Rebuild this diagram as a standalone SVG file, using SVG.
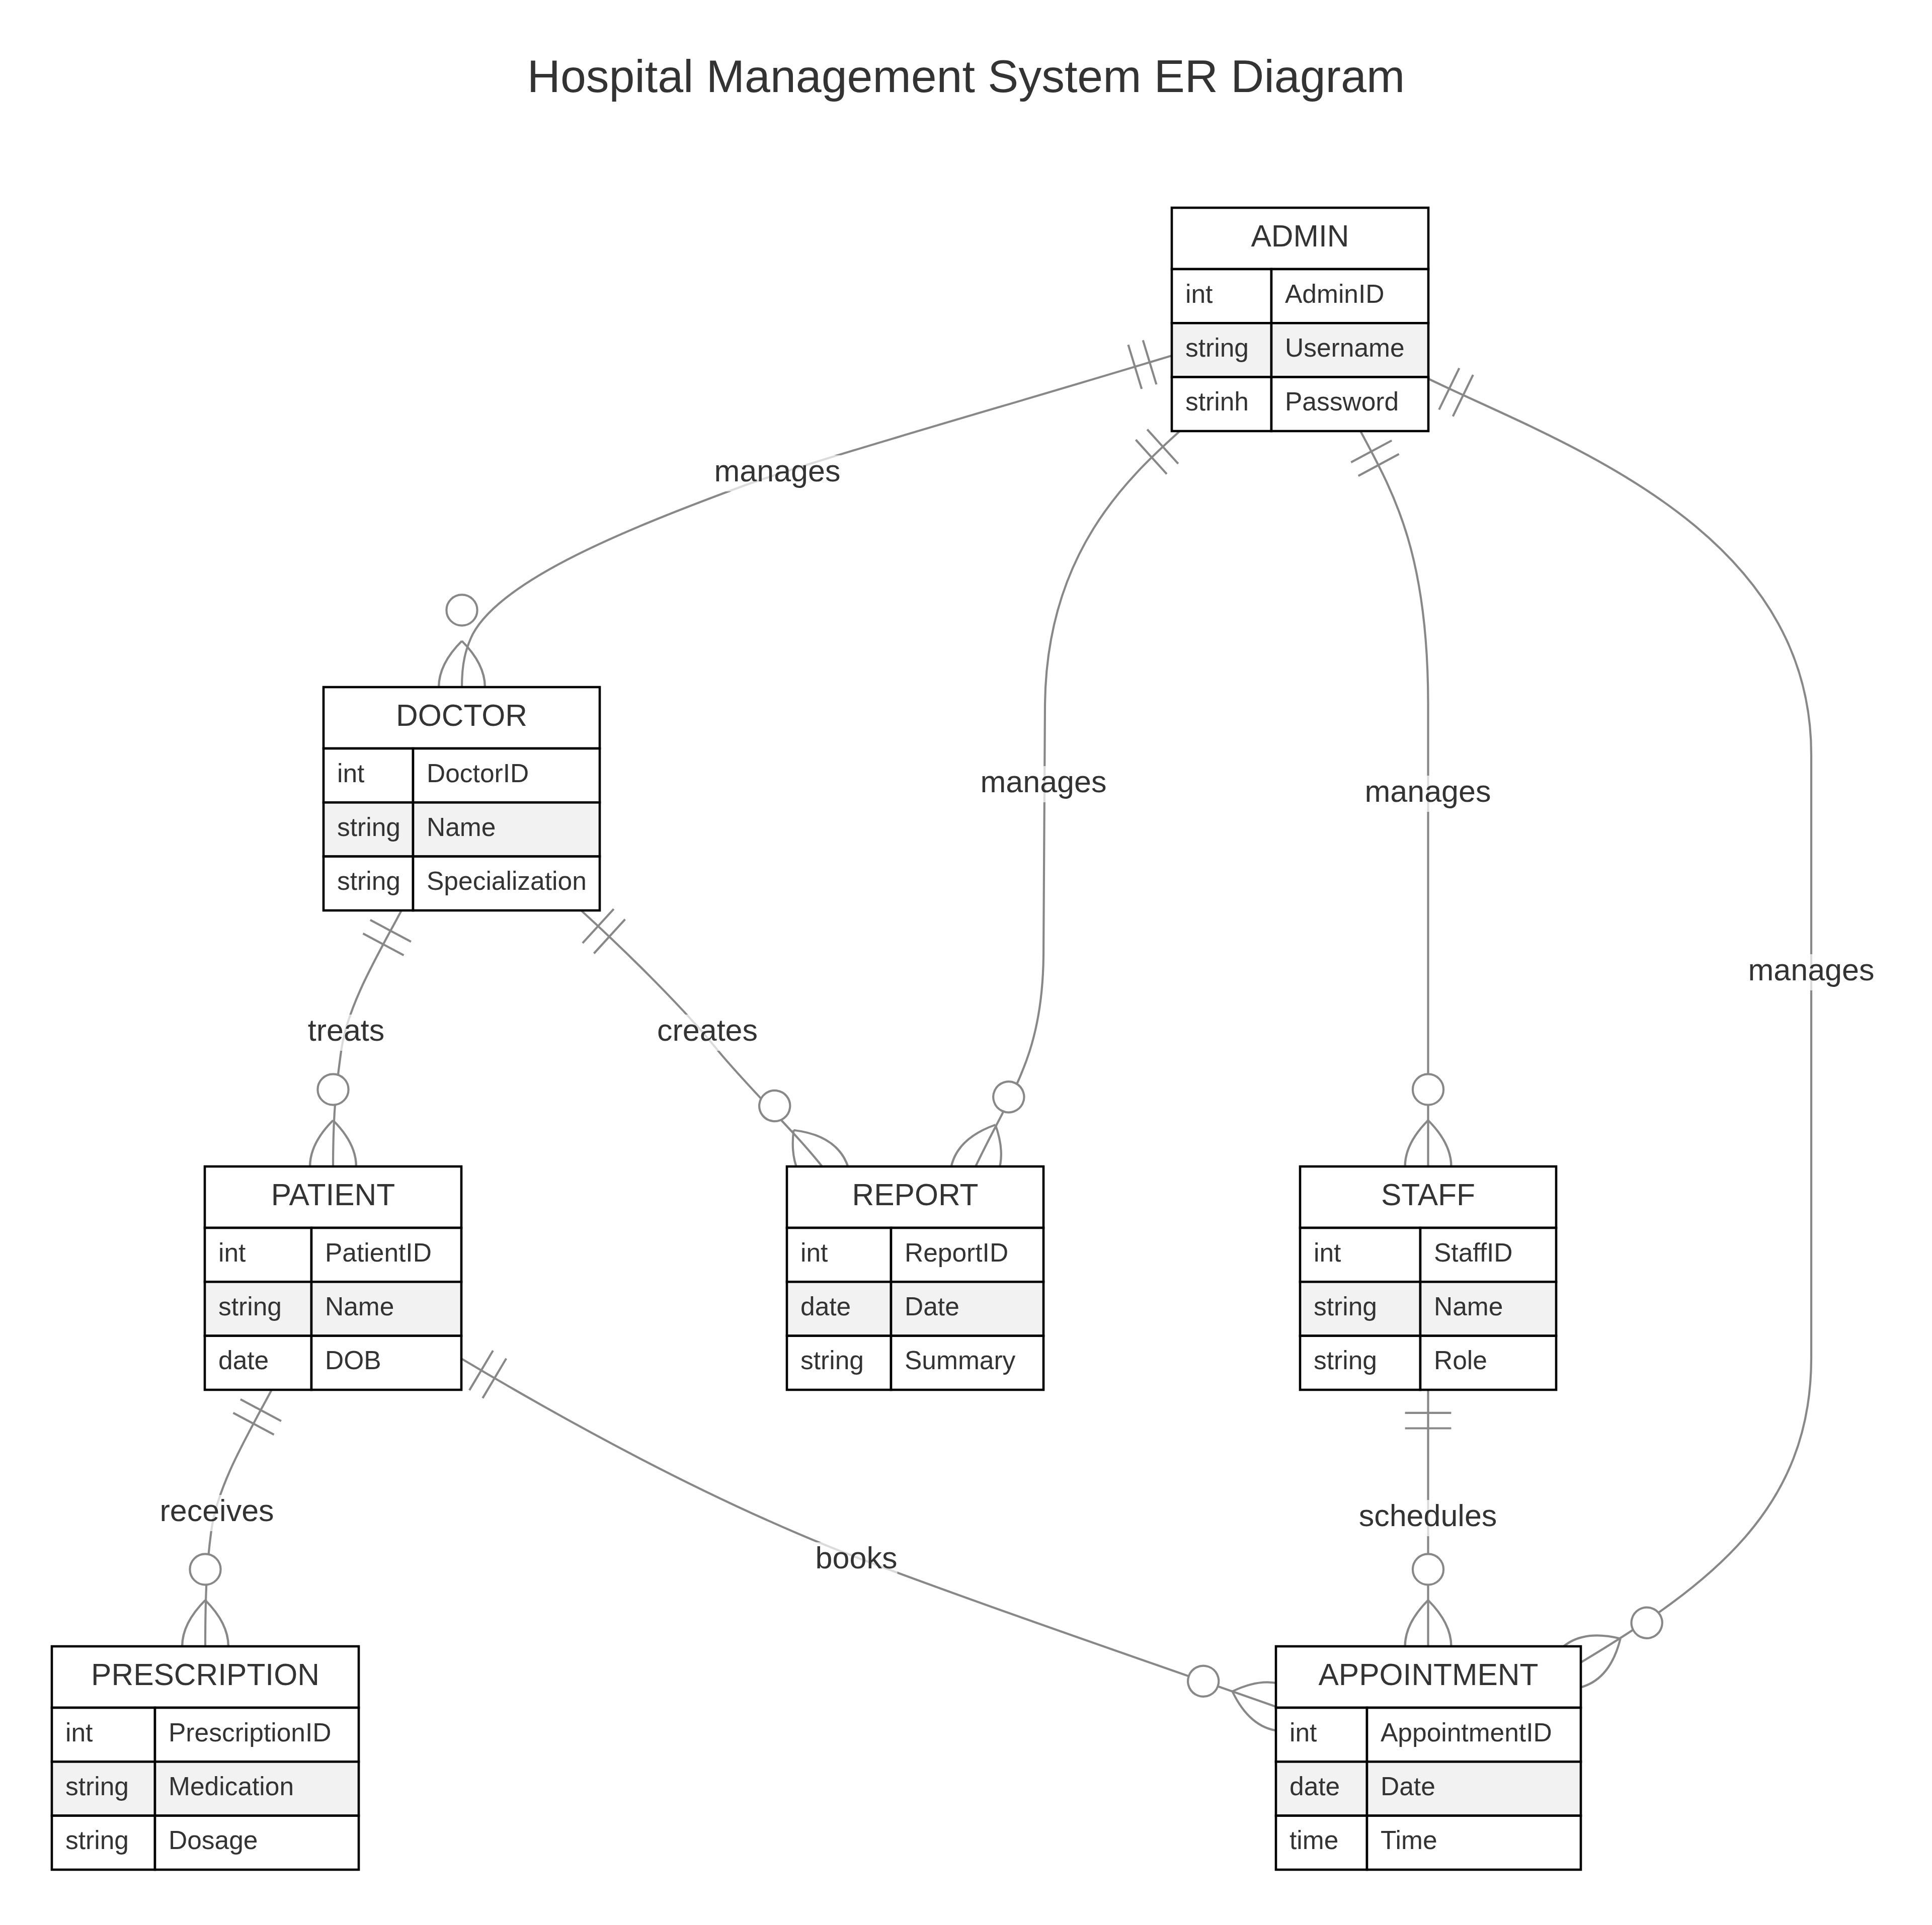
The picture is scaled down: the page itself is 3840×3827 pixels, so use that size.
<svg xmlns="http://www.w3.org/2000/svg" width="3840" height="3827" viewBox="0 0 3840 3827">
<style>
.title{font-family:"Liberation Sans",Arial,sans-serif;font-size:91.5px;fill:#333;text-anchor:middle}
.box{fill:#fff;stroke:#000;stroke-width:4.6}
.alt{fill:#f2f2f2;stroke:#000;stroke-width:4.6}
.hdr{font-family:"Liberation Sans",Arial,sans-serif;font-size:60.5px;fill:#333;text-anchor:middle}
.attr{font-family:"Liberation Sans",Arial,sans-serif;font-size:51.5px;fill:#333}
.rel{fill:none;stroke:#888;stroke-width:4.2;marker-start:url(#one);marker-end:url(#zeroMany)}
.lblbox{fill:#fff;opacity:0.7}
.lbl{font-family:"Liberation Sans",Arial,sans-serif;font-size:61px;fill:#333;text-anchor:middle}
.mk{fill:none;stroke:#888;stroke-width:0.82}
</style>
<defs>
<marker id="one" markerUnits="userSpaceOnUse" viewBox="0 0 18 18" markerWidth="91.8" markerHeight="91.8" refX="0" refY="9" orient="auto" overflow="visible">
<path class="mk" d="M9,0 L9,18 M15,0 L15,18"/>
</marker>
<marker id="zeroMany" markerUnits="userSpaceOnUse" viewBox="0 0 57 36" markerWidth="290.7" markerHeight="183.6" refX="39" refY="18" orient="auto" overflow="visible">
<circle cx="9" cy="18" r="6" fill="#fff" stroke="#888" stroke-width="0.82"/>
<path class="mk" d="M21,18 Q39,0 57,18 Q39,36 21,18"/>
</marker>
</defs>
<rect width="3840" height="3827" fill="#fff"/>
<text class="title" x="1920" y="183">Hospital Management System ER Diagram</text>

<g id="connectors">
<path id="e-admin-doctor" class="rel" d="M2329,707 C2000,807 1650,905 1480,965 C1250,1050 1000,1150 940,1260 C925,1290 918,1320 918,1366"/>
<path id="e-admin-report" class="rel" d="M2345,857 C2241,951 2080,1100 2077,1400 L2074,1900 C2072,2100 2010,2170 1939,2319"/>
<path id="e-admin-staff" class="rel" d="M2704,857 C2770,980 2838.5,1100 2838.5,1400 L2838.5,2319"/>
<path id="e-admin-appointment" class="rel" d="M2839,753 C3100,880 3600,1050 3600,1500 L3600,2700 C3600,3000 3400,3150 3142,3305"/>
<path id="e-doctor-patient" class="rel" d="M798,1810 C750,1900 690,2000 678,2090 C670,2150 662,2200 662,2319"/>
<path id="e-doctor-report" class="rel" d="M1155,1810 C1236,1884 1350,1995 1420,2080 C1480,2155 1580,2250 1634,2319"/>
<path id="e-patient-prescription" class="rel" d="M540,2763 C492,2853 432,2953 420,3043 C412,3103 408,3153 408,3273"/>
<path id="e-patient-appointment" class="rel" d="M917,2701 C1100,2810 1400,2980 1702,3096 C1950,3190 2300,3310 2536,3393"/>
<path id="e-staff-appointment" class="rel" d="M2838.5,2763 L2838.5,3273"/>
</g>

<g id="edge-labels">
<rect class="lblbox" x="1419.5" y="905" width="251" height="72"/><text class="lbl" x="1545" y="957">manages</text>
<rect class="lblbox" x="1948.5" y="1523" width="251" height="72"/><text class="lbl" x="2074" y="1575">manages</text>
<rect class="lblbox" x="2712.5" y="1542" width="251" height="72"/><text class="lbl" x="2838" y="1594">manages</text>
<rect class="lblbox" x="3474.5" y="1897" width="251" height="72"/><text class="lbl" x="3600" y="1949">manages</text>
<rect class="lblbox" x="612" y="2017" width="153" height="72"/><text class="lbl" x="688" y="2069">treats</text>
<rect class="lblbox" x="1306" y="2017" width="200" height="72"/><text class="lbl" x="1406" y="2069">creates</text>
<rect class="lblbox" x="317.5" y="2972" width="227" height="72"/><text class="lbl" x="431" y="3024">receives</text>
<rect class="lblbox" x="1620.5" y="3066" width="163" height="72"/><text class="lbl" x="1702" y="3118">books</text>
<rect class="lblbox" x="2701" y="2982" width="275" height="72"/><text class="lbl" x="2838" y="3034">schedules</text>
</g>

<g id="entity-ADMIN">
<rect class="box" x="2329" y="413" width="510" height="122"/>
<rect class="box" x="2329" y="535" width="198" height="107.33"/><rect class="box" x="2527" y="535" width="312" height="107.33"/>
<rect class="alt" x="2329" y="642.33" width="198" height="107.33"/><rect class="alt" x="2527" y="642.33" width="312" height="107.33"/>
<rect class="box" x="2329" y="749.67" width="198" height="107.33"/><rect class="box" x="2527" y="749.67" width="312" height="107.33"/>
<text class="hdr" x="2584" y="490">ADMIN</text>
<text class="attr" x="2356" y="601.7">int</text><text class="attr" x="2554" y="601.7">AdminID</text>
<text class="attr" x="2356" y="709">string</text><text class="attr" x="2554" y="709">Username</text>
<text class="attr" x="2356" y="816.3">strinh</text><text class="attr" x="2554" y="816.3">Password</text>
</g>

<g id="entity-DOCTOR">
<rect class="box" x="643" y="1366" width="549" height="122"/>
<rect class="box" x="643" y="1488" width="178" height="107.33"/><rect class="box" x="821" y="1488" width="371" height="107.33"/>
<rect class="alt" x="643" y="1595.33" width="178" height="107.33"/><rect class="alt" x="821" y="1595.33" width="371" height="107.33"/>
<rect class="box" x="643" y="1702.67" width="178" height="107.33"/><rect class="box" x="821" y="1702.67" width="371" height="107.33"/>
<text class="hdr" x="917.5" y="1443">DOCTOR</text>
<text class="attr" x="670" y="1554.7">int</text><text class="attr" x="848" y="1554.7">DoctorID</text>
<text class="attr" x="670" y="1662">string</text><text class="attr" x="848" y="1662">Name</text>
<text class="attr" x="670" y="1769.3">string</text><text class="attr" x="848" y="1769.3">Specialization</text>
</g>

<g id="entity-PATIENT">
<rect class="box" x="407" y="2319" width="510" height="122"/>
<rect class="box" x="407" y="2441" width="212" height="107.33"/><rect class="box" x="619" y="2441" width="298" height="107.33"/>
<rect class="alt" x="407" y="2548.33" width="212" height="107.33"/><rect class="alt" x="619" y="2548.33" width="298" height="107.33"/>
<rect class="box" x="407" y="2655.67" width="212" height="107.33"/><rect class="box" x="619" y="2655.67" width="298" height="107.33"/>
<text class="hdr" x="662" y="2396">PATIENT</text>
<text class="attr" x="434" y="2507.7">int</text><text class="attr" x="646" y="2507.7">PatientID</text>
<text class="attr" x="434" y="2615">string</text><text class="attr" x="646" y="2615">Name</text>
<text class="attr" x="434" y="2722.3">date</text><text class="attr" x="646" y="2722.3">DOB</text>
</g>

<g id="entity-REPORT">
<rect class="box" x="1564" y="2319" width="510" height="122"/>
<rect class="box" x="1564" y="2441" width="207" height="107.33"/><rect class="box" x="1771" y="2441" width="303" height="107.33"/>
<rect class="alt" x="1564" y="2548.33" width="207" height="107.33"/><rect class="alt" x="1771" y="2548.33" width="303" height="107.33"/>
<rect class="box" x="1564" y="2655.67" width="207" height="107.33"/><rect class="box" x="1771" y="2655.67" width="303" height="107.33"/>
<text class="hdr" x="1819" y="2396">REPORT</text>
<text class="attr" x="1591" y="2507.7">int</text><text class="attr" x="1798" y="2507.7">ReportID</text>
<text class="attr" x="1591" y="2615">date</text><text class="attr" x="1798" y="2615">Date</text>
<text class="attr" x="1591" y="2722.3">string</text><text class="attr" x="1798" y="2722.3">Summary</text>
</g>

<g id="entity-STAFF">
<rect class="box" x="2584" y="2319" width="509" height="122"/>
<rect class="box" x="2584" y="2441" width="239" height="107.33"/><rect class="box" x="2823" y="2441" width="270" height="107.33"/>
<rect class="alt" x="2584" y="2548.33" width="239" height="107.33"/><rect class="alt" x="2823" y="2548.33" width="270" height="107.33"/>
<rect class="box" x="2584" y="2655.67" width="239" height="107.33"/><rect class="box" x="2823" y="2655.67" width="270" height="107.33"/>
<text class="hdr" x="2838.5" y="2396">STAFF</text>
<text class="attr" x="2611" y="2507.7">int</text><text class="attr" x="2850" y="2507.7">StaffID</text>
<text class="attr" x="2611" y="2615">string</text><text class="attr" x="2850" y="2615">Name</text>
<text class="attr" x="2611" y="2722.3">string</text><text class="attr" x="2850" y="2722.3">Role</text>
</g>

<g id="entity-PRESCRIPTION">
<rect class="box" x="103" y="3273" width="610" height="122"/>
<rect class="box" x="103" y="3395" width="205" height="107.33"/><rect class="box" x="308" y="3395" width="405" height="107.33"/>
<rect class="alt" x="103" y="3502.33" width="205" height="107.33"/><rect class="alt" x="308" y="3502.33" width="405" height="107.33"/>
<rect class="box" x="103" y="3609.67" width="205" height="107.33"/><rect class="box" x="308" y="3609.67" width="405" height="107.33"/>
<text class="hdr" x="408" y="3350">PRESCRIPTION</text>
<text class="attr" x="130" y="3461.7">int</text><text class="attr" x="335" y="3461.7">PrescriptionID</text>
<text class="attr" x="130" y="3569">string</text><text class="attr" x="335" y="3569">Medication</text>
<text class="attr" x="130" y="3676.3">string</text><text class="attr" x="335" y="3676.3">Dosage</text>
</g>

<g id="entity-APPOINTMENT">
<rect class="box" x="2536" y="3273" width="606" height="122"/>
<rect class="box" x="2536" y="3395" width="181" height="107.33"/><rect class="box" x="2717" y="3395" width="425" height="107.33"/>
<rect class="alt" x="2536" y="3502.33" width="181" height="107.33"/><rect class="alt" x="2717" y="3502.33" width="425" height="107.33"/>
<rect class="box" x="2536" y="3609.67" width="181" height="107.33"/><rect class="box" x="2717" y="3609.67" width="425" height="107.33"/>
<text class="hdr" x="2839" y="3350">APPOINTMENT</text>
<text class="attr" x="2563" y="3461.7">int</text><text class="attr" x="2744" y="3461.7">AppointmentID</text>
<text class="attr" x="2563" y="3569">date</text><text class="attr" x="2744" y="3569">Date</text>
<text class="attr" x="2563" y="3676.3">time</text><text class="attr" x="2744" y="3676.3">Time</text>
</g>
</svg>
